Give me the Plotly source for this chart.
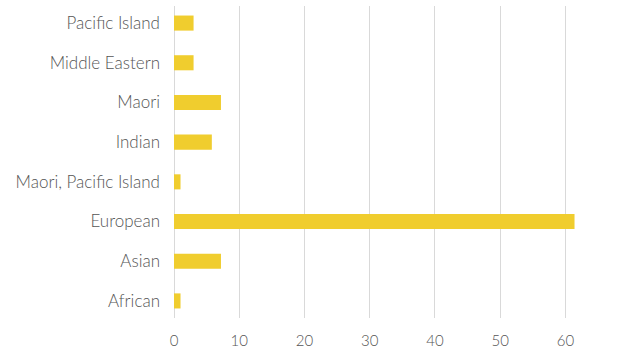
import plotly.graph_objects as go

# Share of respondents by ethnicity (%)
ethnicities = [
    "African",
    "Asian",
    "European",
    "Maori, Pacific Island",
    "Indian",
    "Maori",
    "Middle Eastern",
    "Pacific Island",
]
shares = [1.0, 7.2, 61.4, 1.0, 5.8, 7.2, 3.0, 3.0]
x_ticks = [0, 10, 20, 30, 40, 50, 60]

bar_color = "#F0CD2E"
text_color = "#555555"
grid_color = "#D9D9D9"

fig = go.Figure(
    go.Bar(
        y=ethnicities,
        x=shares,
        orientation="h",
        marker=dict(color=bar_color, line=dict(width=0)),
        hoverinfo="x+y",
    )
)

fig.update_layout(
    width=627,
    height=349,
    margin=dict(l=174, r=29, t=6, b=31),
    paper_bgcolor="white",
    plot_bgcolor="white",
    bargap=0.62,
    showlegend=False,
    font=dict(family="Lato, 'Open Sans', sans-serif", color=text_color),
)

fig.update_xaxes(
    automargin=False,
    range=[0, 65],
    tickvals=x_ticks,
    showgrid=True,
    gridcolor=grid_color,
    gridwidth=1,
    zeroline=True,
    zerolinecolor=grid_color,
    zerolinewidth=1,
    showline=False,
    ticks="",
    tickfont=dict(size=15, color=text_color, weight=300),
    ticklabelstandoff=12,
)

fig.update_yaxes(
    automargin=False,
    categoryorder="array",
    categoryarray=ethnicities,
    range=[-0.43, 7.43],
    showgrid=False,
    zeroline=False,
    showline=False,
    ticks="",
    tickfont=dict(size=17, color=text_color, weight=300),
    ticklabelstandoff=13,
)

fig.write_html("out.html")
